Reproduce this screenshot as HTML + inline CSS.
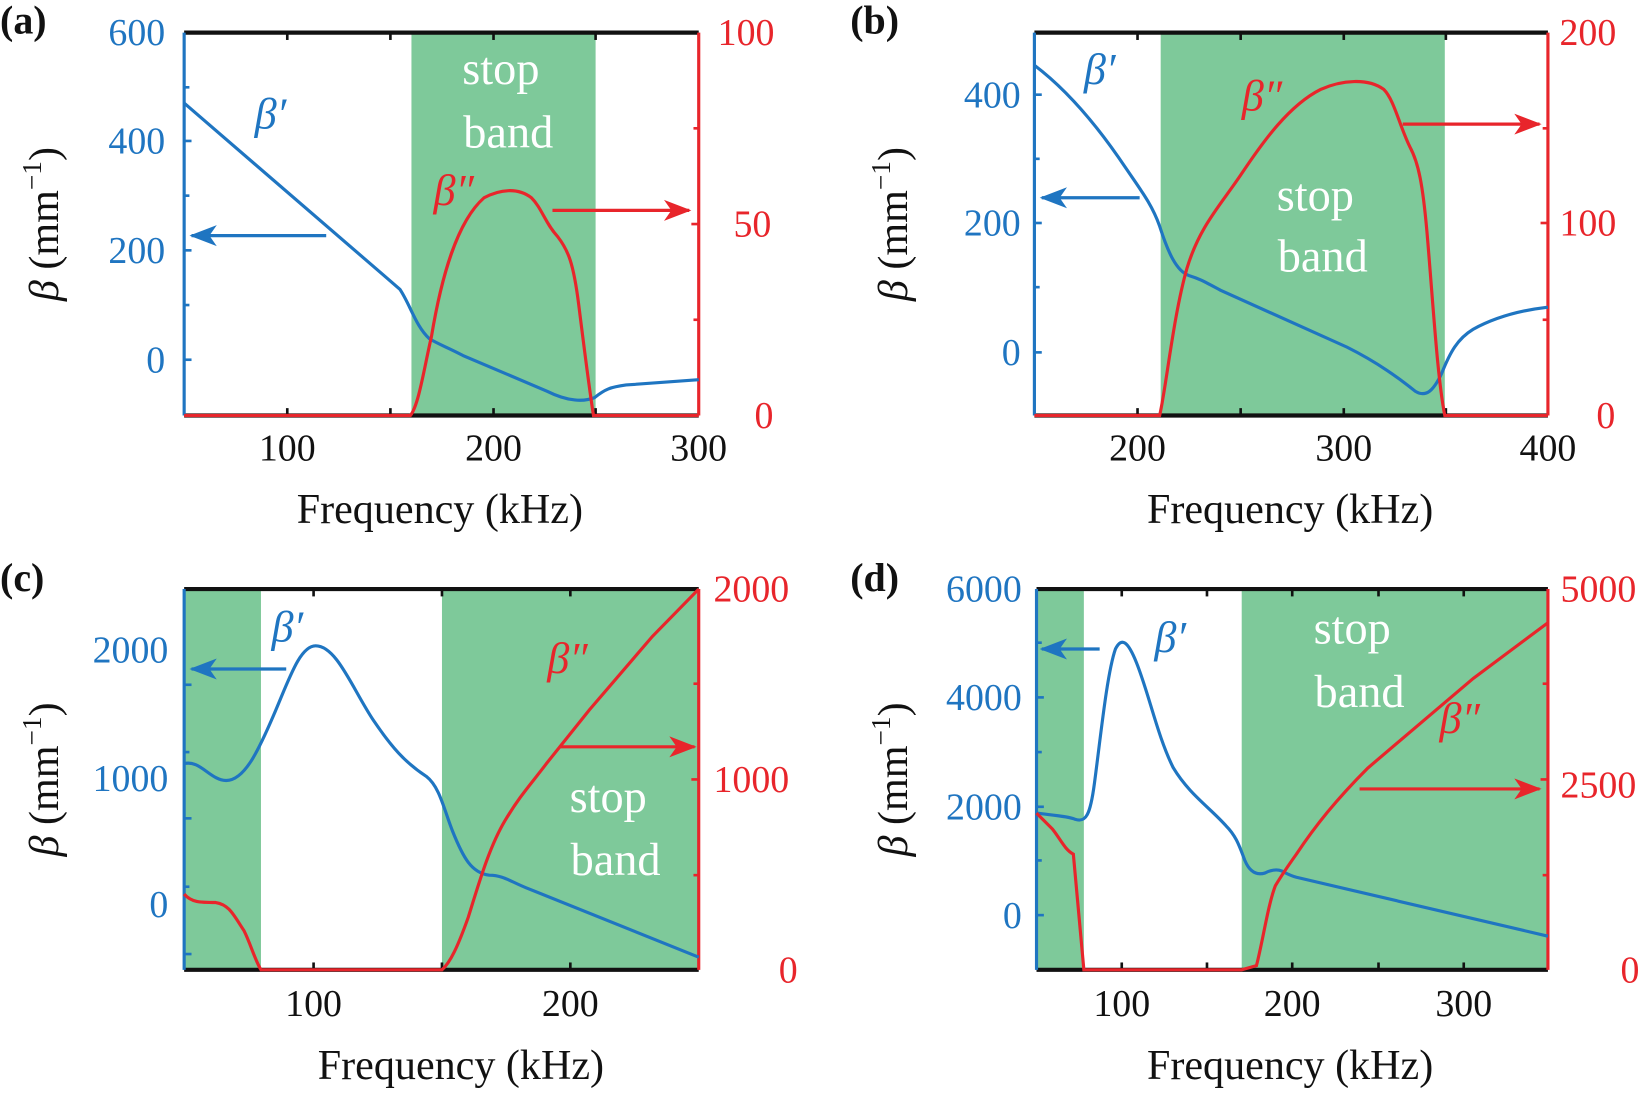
<!DOCTYPE html>
<html><head><meta charset="utf-8"><style>
html,body{margin:0;padding:0;background:#fff;}
svg{display:block;}
text{font-family:"Liberation Serif",serif;}
</style></head><body>
<svg width="1650" height="1095" viewBox="0 0 1568 1041" preserveAspectRatio="none" xmlns="http://www.w3.org/2000/svg">
<defs>
<marker id="ar" markerWidth="30" markerHeight="30" refX="24" refY="12" orient="auto" markerUnits="userSpaceOnUse"><path d="M0,2 L26,12 L0,22 L7,12 Z" fill="#e8252b"/></marker>
<marker id="ab2" markerWidth="30" markerHeight="30" refX="24" refY="12" orient="auto" markerUnits="userSpaceOnUse"><path d="M0,2 L26,12 L0,22 L7,12 Z" fill="#1f75c1"/></marker>
</defs>
<g font-size="36">
<!-- ===== Panel a ===== -->
<rect x="391" y="31" width="175" height="364" fill="#7ec99a"/>
<line x1="175" y1="31" x2="664" y2="31" stroke="#111" stroke-width="4"/>
<line x1="175" y1="395" x2="664" y2="395" stroke="#111" stroke-width="4"/>
<g stroke="#111" stroke-width="2.5">
<line x1="273" y1="31" x2="273" y2="38"/><line x1="371" y1="31" x2="371" y2="38"/><line x1="469" y1="31" x2="469" y2="38"/><line x1="566" y1="31" x2="566" y2="38"/>
<line x1="273" y1="395" x2="273" y2="388"/><line x1="371" y1="395" x2="371" y2="388"/><line x1="469" y1="395" x2="469" y2="388"/><line x1="566" y1="395" x2="566" y2="388"/>
</g>
<line x1="175" y1="31" x2="175" y2="395" stroke="#1f75c1" stroke-width="3"/>
<line x1="664" y1="31" x2="664" y2="395" stroke="#e8252b" stroke-width="3"/>
<g stroke="#1f75c1" stroke-width="2.5"><line x1="175" y1="134" x2="182" y2="134"/><line x1="175" y1="238" x2="182" y2="238"/><line x1="175" y1="342" x2="182" y2="342"/><line x1="175" y1="83" x2="180" y2="83"/><line x1="175" y1="186" x2="180" y2="186"/><line x1="175" y1="290" x2="180" y2="290"/></g>
<g stroke="#e8252b" stroke-width="2.5"><line x1="664" y1="122" x2="659" y2="122"/><line x1="664" y1="213" x2="657" y2="213"/><line x1="664" y1="304" x2="659" y2="304"/></g>
<path d="M175,98 L380,275 C390,290 395,310 408,322 C418,328 425,330 440,338 L520,372 C540,382 555,382 565,378 C575,370 580,368 595,366 L664,361" fill="none" stroke="#1f75c1" stroke-width="3"/>
<path d="M175,395 L390,395 C398,385 403,350 410,320 C420,260 435,210 460,188 C475,180 492,178 505,188 C515,198 518,212 530,225 C540,238 545,250 550,290 C555,330 560,370 564,395 L664,395" fill="none" stroke="#e8252b" stroke-width="3"/>
<line x1="310" y1="224" x2="182" y2="224" stroke="#1f75c1" stroke-width="3" marker-end="url(#ab2)"/>
<line x1="525" y1="200" x2="655" y2="200" stroke="#e8252b" stroke-width="3" marker-end="url(#ar)"/>
<text x="242" y="122" fill="#1f75c1" font-style="italic" font-size="42">β′</text>
<text x="412" y="195" fill="#e8252b" font-style="italic" font-size="42">β″</text>
<text x="476" y="80" fill="#fff" font-size="44" text-anchor="middle">stop</text>
<text x="483" y="140" fill="#fff" font-size="44" text-anchor="middle">band</text>
<g fill="#1f75c1" text-anchor="end"><text x="157" y="43">600</text><text x="157" y="146">400</text><text x="157" y="250">200</text><text x="157" y="354">0</text></g>
<g fill="#e8252b"><text x="682" y="43">100</text><text x="697" y="225">50</text><text x="717" y="407">0</text></g>
<g fill="#111" text-anchor="middle"><text x="273" y="438">100</text><text x="469" y="438">200</text><text x="664" y="438">300</text></g>
<text x="418" y="497" fill="#111" font-size="40" text-anchor="middle">Frequency (kHz)</text>
<text transform="translate(55,213) rotate(-90)" fill="#111" font-size="40" text-anchor="middle"><tspan font-style="italic">β</tspan> (mm<tspan font-size="26" dy="-16">−1</tspan><tspan dy="16">)</tspan></text>
<text x="0" y="32" font-weight="bold" font-size="38" fill="#111">(a)</text>

<!-- ===== Panel b ===== -->
<rect x="1103" y="31" width="270" height="364" fill="#7ec99a"/>
<line x1="983" y1="31" x2="1471" y2="31" stroke="#111" stroke-width="4"/>
<line x1="983" y1="395" x2="1471" y2="395" stroke="#111" stroke-width="4"/>
<g stroke="#111" stroke-width="2.5">
<line x1="1081" y1="31" x2="1081" y2="38"/><line x1="1179" y1="31" x2="1179" y2="38"/><line x1="1277" y1="31" x2="1277" y2="38"/><line x1="1374" y1="31" x2="1374" y2="38"/>
<line x1="1081" y1="395" x2="1081" y2="388"/><line x1="1179" y1="395" x2="1179" y2="388"/><line x1="1277" y1="395" x2="1277" y2="388"/><line x1="1374" y1="395" x2="1374" y2="388"/>
</g>
<line x1="983" y1="31" x2="983" y2="395" stroke="#1f75c1" stroke-width="3"/>
<line x1="1471" y1="31" x2="1471" y2="395" stroke="#e8252b" stroke-width="3"/>
<g stroke="#1f75c1" stroke-width="2.5"><line x1="983" y1="90" x2="990" y2="90"/><line x1="983" y1="212" x2="990" y2="212"/><line x1="983" y1="335" x2="990" y2="335"/><line x1="983" y1="151" x2="988" y2="151"/><line x1="983" y1="273" x2="988" y2="273"/></g>
<g stroke="#e8252b" stroke-width="2.5"><line x1="1471" y1="122" x2="1466" y2="122"/><line x1="1471" y1="212" x2="1464" y2="212"/><line x1="1471" y1="304" x2="1466" y2="304"/></g>
<path d="M983,62 C1020,90 1050,130 1070,160 C1085,182 1095,195 1102,215 C1110,240 1118,258 1130,262 C1140,265 1145,268 1160,276 L1280,330 C1310,345 1330,360 1345,372 C1355,378 1362,372 1370,355 C1378,335 1385,322 1400,313 C1420,302 1445,295 1471,292" fill="none" stroke="#1f75c1" stroke-width="3"/>
<path d="M983,395 L1102,395 C1108,370 1115,300 1128,255 C1140,215 1160,195 1180,165 C1200,135 1225,100 1255,85 C1275,76 1300,74 1315,85 C1325,95 1330,120 1340,140 C1348,155 1352,175 1356,220 C1362,290 1366,360 1373,395 L1471,395" fill="none" stroke="#e8252b" stroke-width="3"/>
<line x1="1083" y1="188" x2="990" y2="188" stroke="#1f75c1" stroke-width="3" marker-end="url(#ab2)"/>
<line x1="1333" y1="118" x2="1463" y2="118" stroke="#e8252b" stroke-width="3" marker-end="url(#ar)"/>
<text x="1030" y="80" fill="#1f75c1" font-style="italic" font-size="42">β′</text>
<text x="1180" y="105" fill="#e8252b" font-style="italic" font-size="42">β″</text>
<text x="1250" y="200" fill="#fff" font-size="44" text-anchor="middle">stop</text>
<text x="1257" y="258" fill="#fff" font-size="44" text-anchor="middle">band</text>
<g fill="#1f75c1" text-anchor="end"><text x="970" y="102">400</text><text x="970" y="224">200</text><text x="970" y="347">0</text></g>
<g fill="#e8252b"><text x="1482" y="43">200</text><text x="1482" y="224">100</text><text x="1517" y="407">0</text></g>
<g fill="#111" text-anchor="middle"><text x="1081" y="438">200</text><text x="1277" y="438">300</text><text x="1471" y="438">400</text></g>
<text x="1226" y="497" fill="#111" font-size="40" text-anchor="middle">Frequency (kHz)</text>
<text transform="translate(862,213) rotate(-90)" fill="#111" font-size="40" text-anchor="middle"><tspan font-style="italic">β</tspan> (mm<tspan font-size="26" dy="-16">−1</tspan><tspan dy="16">)</tspan></text>
<text x="808" y="32" font-weight="bold" font-size="38" fill="#111">(b)</text>

<!-- ===== Panel c ===== -->
<rect x="175" y="560" width="73" height="362" fill="#7ec99a"/>
<rect x="420" y="560" width="244" height="362" fill="#7ec99a"/>
<line x1="175" y1="560" x2="664" y2="560" stroke="#111" stroke-width="4"/>
<line x1="175" y1="922" x2="664" y2="922" stroke="#111" stroke-width="4"/>
<g stroke="#111" stroke-width="2.5">
<line x1="298" y1="560" x2="298" y2="567"/><line x1="420" y1="560" x2="420" y2="567"/><line x1="542" y1="560" x2="542" y2="567"/>
<line x1="298" y1="922" x2="298" y2="915"/><line x1="420" y1="922" x2="420" y2="915"/><line x1="542" y1="922" x2="542" y2="915"/>
</g>
<line x1="175" y1="560" x2="175" y2="922" stroke="#1f75c1" stroke-width="3"/>
<line x1="664" y1="560" x2="664" y2="922" stroke="#e8252b" stroke-width="3"/>
<g stroke="#1f75c1" stroke-width="2.5"><line x1="175" y1="651" x2="182" y2="651"/><line x1="175" y1="778" x2="182" y2="778"/><line x1="175" y1="907" x2="182" y2="907"/><line x1="175" y1="715" x2="180" y2="715"/><line x1="175" y1="843" x2="180" y2="843"/></g>
<g stroke="#e8252b" stroke-width="2.5"><line x1="664" y1="650" x2="659" y2="650"/><line x1="664" y1="741" x2="657" y2="741"/><line x1="664" y1="832" x2="659" y2="832"/></g>
<path d="M175,726 C190,722 200,742 215,742 C232,742 245,715 260,680 C275,645 285,614 300,614 C320,614 335,655 355,685 C372,710 385,725 405,738 C418,748 422,770 430,790 C440,815 448,830 465,832 C478,832 485,838 500,844 L664,910" fill="none" stroke="#1f75c1" stroke-width="3"/>
<path d="M175,850 C182,858 190,858 205,858 C218,860 222,870 232,885 C238,897 242,912 248,922 L420,922 C428,915 435,900 445,872 C455,840 465,805 480,780 C495,755 505,745 520,725 L560,675 L620,605 L664,560" fill="none" stroke="#e8252b" stroke-width="3"/>
<line x1="272" y1="636" x2="182" y2="636" stroke="#1f75c1" stroke-width="3" marker-end="url(#ab2)"/>
<line x1="532" y1="710" x2="660" y2="710" stroke="#e8252b" stroke-width="3" marker-end="url(#ar)"/>
<text x="258" y="610" fill="#1f75c1" font-style="italic" font-size="42">β′</text>
<text x="520" y="640" fill="#e8252b" font-style="italic" font-size="42">β″</text>
<text x="578" y="772" fill="#fff" font-size="44" text-anchor="middle">stop</text>
<text x="585" y="832" fill="#fff" font-size="44" text-anchor="middle">band</text>
<g fill="#1f75c1" text-anchor="end"><text x="160" y="630">2000</text><text x="160" y="752">1000</text><text x="160" y="872">0</text></g>
<g fill="#e8252b"><text x="678" y="572">2000</text><text x="678" y="753">1000</text><text x="740" y="934">0</text></g>
<g fill="#111" text-anchor="middle"><text x="298" y="966">100</text><text x="542" y="966">200</text></g>
<text x="438" y="1026" fill="#111" font-size="40" text-anchor="middle">Frequency (kHz)</text>
<text transform="translate(55,741) rotate(-90)" fill="#111" font-size="40" text-anchor="middle"><tspan font-style="italic">β</tspan> (mm<tspan font-size="26" dy="-16">−1</tspan><tspan dy="16">)</tspan></text>
<text x="0" y="562" font-weight="bold" font-size="38" fill="#111">(c)</text>

<!-- ===== Panel d ===== -->
<rect x="985" y="560" width="45" height="362" fill="#7ec99a"/>
<rect x="1180" y="560" width="291" height="362" fill="#7ec99a"/>
<line x1="985" y1="560" x2="1471" y2="560" stroke="#111" stroke-width="4"/>
<line x1="985" y1="922" x2="1471" y2="922" stroke="#111" stroke-width="4"/>
<g stroke="#111" stroke-width="2.5">
<line x1="1066" y1="560" x2="1066" y2="567"/><line x1="1147" y1="560" x2="1147" y2="567"/><line x1="1228" y1="560" x2="1228" y2="567"/><line x1="1310" y1="560" x2="1310" y2="567"/><line x1="1391" y1="560" x2="1391" y2="567"/>
<line x1="1066" y1="922" x2="1066" y2="915"/><line x1="1147" y1="922" x2="1147" y2="915"/><line x1="1228" y1="922" x2="1228" y2="915"/><line x1="1310" y1="922" x2="1310" y2="915"/><line x1="1391" y1="922" x2="1391" y2="915"/>
</g>
<line x1="985" y1="560" x2="985" y2="922" stroke="#1f75c1" stroke-width="3"/>
<line x1="1471" y1="560" x2="1471" y2="922" stroke="#e8252b" stroke-width="3"/>
<g stroke="#1f75c1" stroke-width="2.5"><line x1="985" y1="663" x2="992" y2="663"/><line x1="985" y1="767" x2="992" y2="767"/><line x1="985" y1="870" x2="992" y2="870"/><line x1="985" y1="611" x2="990" y2="611"/><line x1="985" y1="715" x2="990" y2="715"/><line x1="985" y1="818" x2="990" y2="818"/></g>
<g stroke="#e8252b" stroke-width="2.5"><line x1="1471" y1="650" x2="1466" y2="650"/><line x1="1471" y1="741" x2="1464" y2="741"/><line x1="1471" y1="832" x2="1466" y2="832"/></g>
<path d="M985,773 C1000,775 1015,776 1022,779 C1032,782 1036,775 1040,745 C1046,700 1052,640 1060,617 C1066,605 1072,610 1080,630 C1092,660 1100,700 1115,730 C1130,755 1150,768 1165,785 C1175,795 1178,805 1183,818 C1188,830 1195,832 1202,830 C1208,827 1213,826 1218,828 C1222,830 1225,832 1232,834 L1471,890" fill="none" stroke="#1f75c1" stroke-width="3"/>
<path d="M985,773 L1000,788 C1008,798 1012,808 1020,812 L1030,922 L1180,922 L1194,918 C1200,895 1205,860 1212,842 C1218,832 1222,826 1232,812 C1250,785 1270,760 1300,730 L1400,645 L1471,592" fill="none" stroke="#e8252b" stroke-width="3"/>
<line x1="1045" y1="617" x2="990" y2="617" stroke="#1f75c1" stroke-width="3" marker-end="url(#ab2)"/>
<line x1="1292" y1="750" x2="1463" y2="750" stroke="#e8252b" stroke-width="3" marker-end="url(#ar)"/>
<text x="1097" y="620" fill="#1f75c1" font-style="italic" font-size="42">β′</text>
<text x="1368" y="697" fill="#e8252b" font-style="italic" font-size="42">β″</text>
<text x="1285" y="612" fill="#fff" font-size="44" text-anchor="middle">stop</text>
<text x="1292" y="672" fill="#fff" font-size="44" text-anchor="middle">band</text>
<g fill="#1f75c1" text-anchor="end"><text x="971" y="572">6000</text><text x="971" y="675">4000</text><text x="971" y="779">2000</text><text x="971" y="882">0</text></g>
<g fill="#e8252b"><text x="1483" y="572">5000</text><text x="1483" y="758">2500</text><text x="1540" y="934">0</text></g>
<g fill="#111" text-anchor="middle"><text x="1066" y="966">100</text><text x="1228" y="966">200</text><text x="1391" y="966">300</text></g>
<text x="1226" y="1026" fill="#111" font-size="40" text-anchor="middle">Frequency (kHz)</text>
<text transform="translate(862,741) rotate(-90)" fill="#111" font-size="40" text-anchor="middle"><tspan font-style="italic">β</tspan> (mm<tspan font-size="26" dy="-16">−1</tspan><tspan dy="16">)</tspan></text>
<text x="808" y="562" font-weight="bold" font-size="38" fill="#111">(d)</text>
</g>
</svg>
</body></html>
